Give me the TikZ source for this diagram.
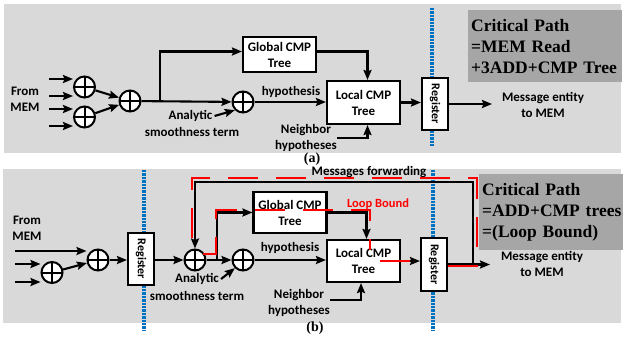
\documentclass[tikz,border=0pt]{standalone}
\usepackage{fontspec}
\setmainfont{Carlito}
\newfontfamily\pathfont{Liberation Serif}
\usepackage{xcolor}
\usetikzlibrary{arrows.meta}
\definecolor{panelgray}{RGB}{217,217,217}
\definecolor{pathgray}{RGB}{166,166,166}
\definecolor{regblue}{RGB}{0,112,192}

\begin{document}
\begin{tikzpicture}
    [x=1pt, y=-1pt,
     every node/.style={font=\bfseries\fontsize{13}{16}\selectfont, inner sep=0pt},
     >={Stealth[length=10pt,width=8pt,inset=1.5pt]},
     wire/.style={line width=2.1pt},
     adder/.style={circle, draw, line width=2pt, fill=white, minimum size=21pt,
       path picture={\draw[line width=2pt]
         (path picture bounding box.north) -- (path picture bounding box.south)
         (path picture bounding box.west) -- (path picture bounding box.east);}},
     cmpbox/.style={draw, line width=2.1pt, fill=white, minimum width=73pt, align=center},
     regbox/.style={draw, line width=2.1pt, fill=white, minimum width=52pt,
       minimum height=26pt, rotate=-90, font=\bfseries\fontsize{12}{14}\selectfont},
     pipe/.style={draw=regblue, line width=3.6pt, dash pattern=on 2.4pt off 1pt},
     crit/.style={fill=pathgray, anchor=north west, align=left, inner xsep=3pt,
       font=\pathfont\bfseries\fontsize{17.5}{21}\selectfont},
     loop/.style={draw=red, line width=2.4pt, dash pattern=on 30pt off 18pt},
     tag/.style={font=\pathfont\bfseries\fontsize{14}{16}\selectfont}]
    \useasboundingbox (0,0) rectangle (623,341);

    % two panels and the register cuts
    \fill[panelgray] (4,4) rectangle (621,153);
    \fill[panelgray] (3,169) rectangle (621,323);
    \draw[pipe] (432,8) -- (432,146);
    \draw[pipe] (144,170) -- (144,330);
    \draw[pipe] (433,170) -- (433,330);

    % (a) memory read, three adders, then the trees
    \node[align=center] (mema) at (25,99) {From\\MEM};
    \node[adder] (a1) at (84.5,87) {};
    \node[adder] (a2) at (84.5,117) {};
    \node[adder] (a3) at (130,101) {};
    \node[adder] (a4) at (243,102) {};
    \node[cmpbox, minimum height=35pt] (ga) at (279.5,54.5) {Global CMP\\Tree};
    \node[cmpbox, minimum height=43pt] (la) at (363.5,102.5) {Local CMP\\Tree};
    \node[regbox] (ra) at (435,104) {Register};
    \node (hypa) at (291,92) {hypothesis};
    \node (anla) at (190.5,116) {Analytic};
    \node (smta) at (192,132) {smoothness term};
    \node[align=center] (nbra) at (306,138) {Neighbor\\hypotheses};
    \node[align=center] (outa) at (543,105) {Message entity\\to MEM};
    \node[crit, minimum height=72pt, text width=148pt] (cpa) at (468,10)
        {Critical Path\\=MEM Read\\+3ADD+CMP Tree};
    \node[tag] (taga) at (312,159) {(a)};

    \coordinate (ia1) at (49,79);
    \coordinate (ia2) at (49,96);
    \coordinate (ia3) at (49,109);
    \coordinate (ia4) at (49,126);
    \coordinate (bra) at (160,101);
    \coordinate (enda) at (492,104);
    \draw[wire,->] (ia1) -- (ia1 -| a1.west);
    \draw[wire,->] (ia2) -- (ia2 -| a1.west);
    \draw[wire,->] (ia3) -- (ia3 -| a2.west);
    \draw[wire,->] (ia4) -- (ia4 -| a2.west);
    \draw[wire,->] (a1) -- (a3);
    \draw[wire,->] (a2) -- (a3);
    \draw[wire,->] (a3) -- (a4);
    \draw[wire,->] (bra) |- ([yshift=3pt]ga.west);
    \draw[wire,->] ([yshift=3pt]ga.east) -| ([xshift=4pt]la.north);
    \draw[wire,->] (a4) -- (a4 -| la.west);
    \draw[wire,->] ([xshift=2pt]anla.east) -- (a4.south west);
    \draw[wire,->] (nbra.east) -| ([xshift=4pt]la.south);
    \draw[wire,->] (la.east) -- (la.east -| ra.south);
    \draw[wire,->] (ra.north) -- (enda);

    % (b) register after the input adders, loop through the trees
    \node[align=center] (memb) at (27,228) {From\\MEM};
    \node[adder] (b1) at (52,272.5) {};
    \node[adder] (b2) at (98,260) {};
    \node[regbox] (rb1) at (141,259) {Register};
    \node[adder] (b3) at (195,260) {};
    \node[adder] (b4) at (243,260) {};
    \node[cmpbox, minimum height=41pt] (gb) at (290,212.5) {Global CMP\\Tree};
    \node[cmpbox, minimum height=42pt] (lb) at (363.5,261) {Local CMP\\Tree};
    \node[regbox, minimum width=53pt] (rb2) at (434,264.5) {Register};
    \node (hypb) at (290,248) {hypothesis};
    \node (anlb) at (197,279) {Analytic};
    \node (smtb) at (197,296) {smoothness term};
    \node[align=center] (nbrb) at (299,303) {Neighbor\\hypotheses};
    \node[align=center] (outb) at (542,264) {Message entity\\to MEM};
    \node (fwd) at (369,172) {Messages forwarding};
    \node[text=red, font=\bfseries\fontsize{12.5}{14}\selectfont] (lpb) at (378,204) {Loop Bound};
    \node[crit, minimum height=76pt, text width=150pt] (cpb) at (479,174)
        {Critical Path\\=ADD+CMP trees\\=(Loop Bound)};
    \node[tag] (tagb) at (315,328) {(b)};

    \coordinate (ib1) at (15,251);
    \coordinate (ib2) at (15,264);
    \coordinate (ib3) at (15,282);
    \coordinate (brb) at (217,260);
    \coordinate (fk) at (473,264.5);
    \coordinate (ftop) at (473,182);
    \coordinate (endb) at (490,264.5);
    \draw[wire,->] (ib1) -- (ib1 -| b2.west);
    \draw[wire,->] (ib2) -- (ib2 -| b1.west);
    \draw[wire,->] (ib3) -- (ib3 -| b1.west);
    \draw[wire,->] (b1) -- (b2);
    \draw[wire,->] (b2) -- (b2 -| rb1.south);
    \draw[wire,->] (rb1.north |- b3) -- (b3);
    \draw[wire,->] (b3) -- (b4);
    \draw[wire,->] (brb) |- (gb.west);
    \draw[wire,->] (gb.east) -| ([xshift=3pt]lb.north);
    \draw[wire,->] (b4) -- (b4 -| lb.west);
    \draw[wire,->] ([xshift=2pt]anlb.east) -- (b4.south west);
    \draw[wire,->] ([yshift=3pt]nbrb.east) -| ([xshift=-2.5pt]lb.south);
    \draw[wire,->] (lb.east) -- (lb.east -| rb2.south);
    \draw[wire,->] (rb2.north) -- (endb);
    \draw[wire,->] (fk) -- (ftop) -| (b3.north);

    % loop bound
    \draw[loop] (203,254) -- (216,254) -- (216,210) -- (370,210) -- (370,250);
    \draw[loop] (380,261) -- (412,261);
    \draw[loop] (448,266) -- (477,266) -- (477,178) -- (192,178) -- (192,248);
\end{tikzpicture}
\end{document}
